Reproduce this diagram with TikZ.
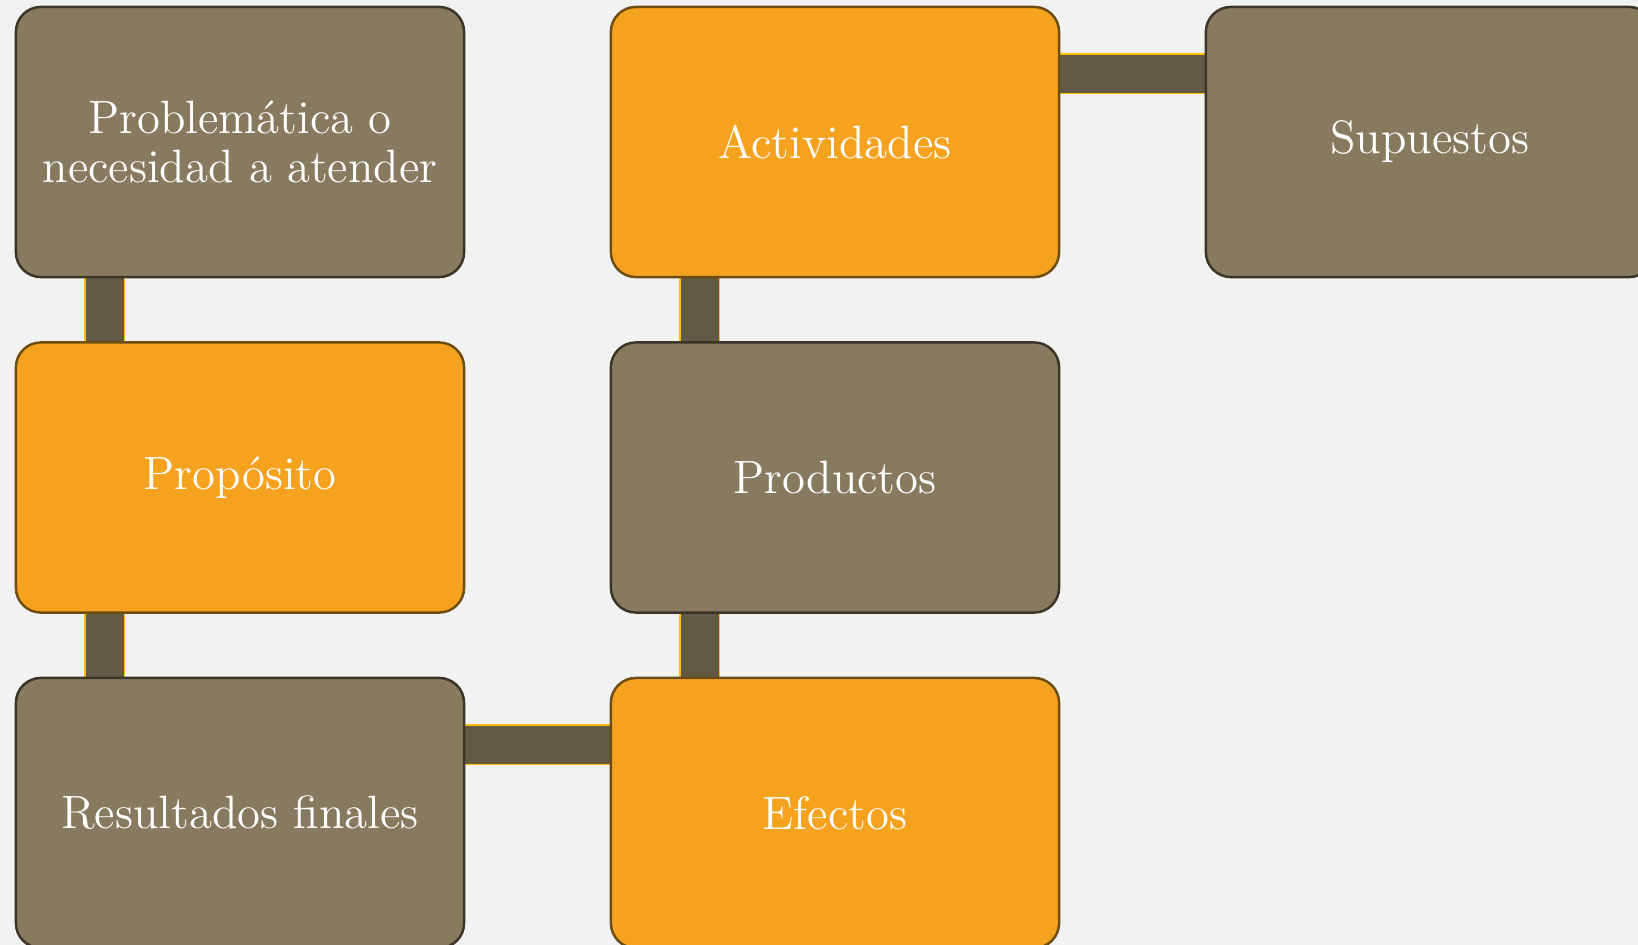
\documentclass[tikz,border=0pt]{standalone}
\usepackage{tikz}
\usetikzlibrary{calc}

\definecolor{bgcol}{HTML}{F2F2F2}
\definecolor{taupe}{HTML}{877A5E}
\definecolor{taupeline}{HTML}{3B3528}
\definecolor{amber}{HTML}{F5A31F}
\definecolor{amberline}{HTML}{6E4C12}
\definecolor{linkdark}{HTML}{635A46}
\definecolor{linkedge}{HTML}{FFC000}

\pgfdeclarelayer{back}
\pgfsetlayers{back,main}

\begin{document}
\begin{tikzpicture}[x=0.01cm,y=-0.01cm]
 	\def \colone{240}
 	\def \coltwo{835}
 	\def \colthree{1430}
 	\def \rowone{142}
 	\def \rowtwo{477.5}
 	\def \rowthree{813}
 	\tikzstyle{box}=[rectangle,rounded corners=0.25cm,line width=0.7pt,minimum width=4.48cm,minimum height=2.7cm,text=white,align=center,font=\fontsize{13.3}{13.7}\selectfont]
 	\tikzstyle{t-box}=[box,fill=taupe,draw=taupeline]
 	\tikzstyle{a-box}=[box,fill=amber,draw=amberline]
 	\tikzstyle{link}=[draw=linkedge,line width=0.016cm,double=linkdark,double distance=0.38cm]
 	% canvas
 	\useasboundingbox (0,0) rectangle (1638,945);
 	\begin{pgfonlayer}{back}
 	\fill[bgcol] (0,0) rectangle (1638,945);
 	\end{pgfonlayer}
 	% first column
 	\node[t-box] 	(prob)	at (\colone,\rowone)		{Problemática o\\necesidad a atender};
 	\node[a-box] 	(prop)	at (\colone,\rowtwo)		{Propósito};
 	\node[t-box] 	(res)	at (\colone,\rowthree)		{Resultados finales};
 	% second column
 	\node[a-box] 	(act)	at (\coltwo,\rowone)		{Actividades};
 	\node[t-box] 	(prod)	at (\coltwo,\rowtwo)		{Productos};
 	\node[a-box] 	(efe)	at (\coltwo,\rowthree)		{Efectos};
 	% third column
 	\node[t-box] 	(sup)	at (\colthree,\rowone)		{Supuestos};
 	% links
 	\begin{pgfonlayer}{back}
 	\draw[link] ($(prob.south west)!0.2!(prob.south east)$) -- ($(prop.north west)!0.2!(prop.north east)$);
 	\draw[link] ($(prop.south west)!0.2!(prop.south east)$) -- ($(res.north west)!0.2!(res.north east)$);
 	\draw[link] ($(res.north east)!0.25!(res.south east)$) -- ($(efe.north west)!0.25!(efe.south west)$);
 	\draw[link] ($(efe.north west)!0.2!(efe.north east)$) -- ($(prod.south west)!0.2!(prod.south east)$);
 	\draw[link] ($(prod.north west)!0.2!(prod.north east)$) -- ($(act.south west)!0.2!(act.south east)$);
 	\draw[link] ($(act.north east)!0.25!(act.south east)$) -- ($(sup.north west)!0.25!(sup.south west)$);
 	\end{pgfonlayer}
\end{tikzpicture}
\end{document}
